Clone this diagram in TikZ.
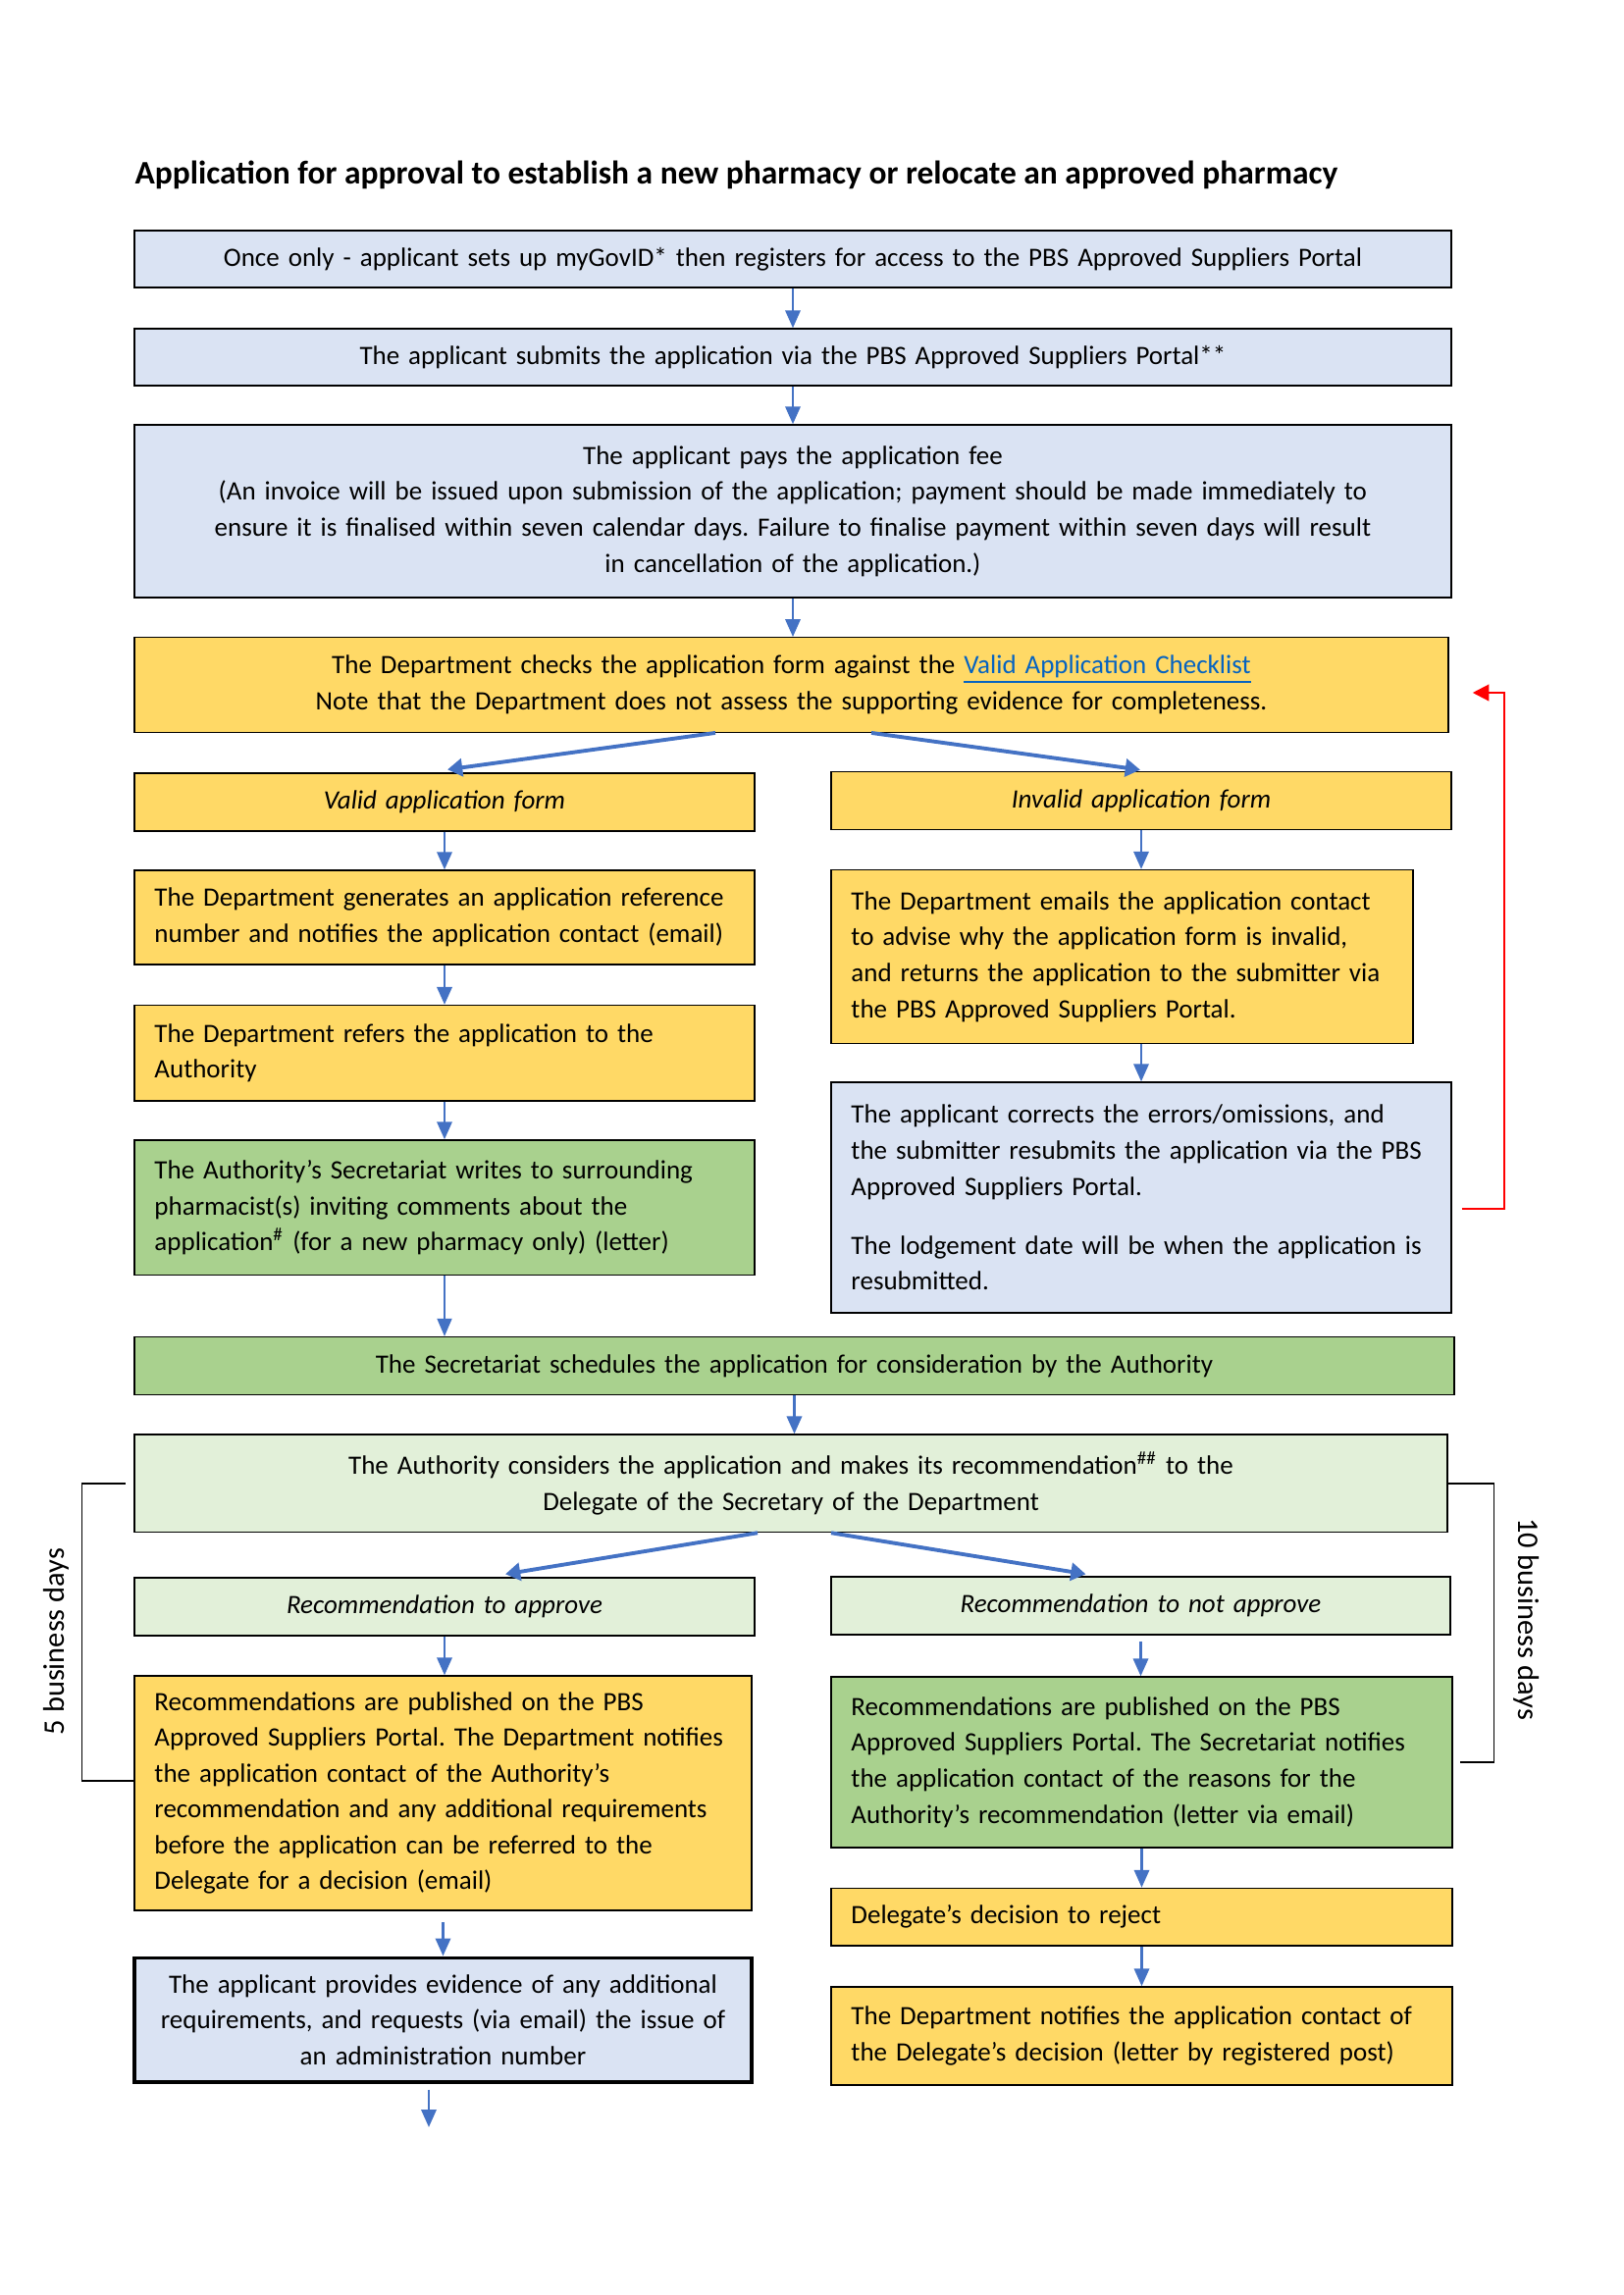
\documentclass[tikz,border=0pt]{standalone}
\usepackage{fontspec}
\setmainfont{Carlito}
\usepackage{xcolor}
\usepackage{tikz}
\usetikzlibrary{arrows.meta,calc}

\definecolor{paleblue}{HTML}{DAE3F3}
\definecolor{gold}{HTML}{FFD966}
\definecolor{leaf}{HTML}{A9D18E}
\definecolor{mint}{HTML}{E2F0D9}
\definecolor{flowblue}{HTML}{4472C4}
\definecolor{linkblue}{HTML}{0563C1}

\begin{document}
\begin{tikzpicture}[x=0.126965mm, y=-0.126965mm,
    every node/.style={font=\fontsize{9.75}{13.2}\selectfont\frenchspacing},
    stage/.style={draw=black, line width=0.5pt, inner xsep=2.6mm, inner ysep=0pt},
    flow/.style={draw=flowblue, line width=1pt, -{Triangle[length=6.5pt, width=5.5pt]}},
    fork/.style={draw=flowblue, line width=1.4pt, -{Triangle[length=5.5pt, width=6.5pt]}},
    loopback/.style={draw=red, line width=0.8pt, -{Triangle[length=6pt, width=6pt]}},
    bracket/.style={draw=black, line width=0.5pt}]
    \useasboundingbox (0,0) rectangle (1654,2339);

    \node[anchor=base west, inner sep=0pt, font=\fontsize{12.1}{14.5}\selectfont\bfseries] (title) at (137,188) {Application for approval to establish a new pharmacy or relocate an approved pharmacy};

    \node[stage, fill=paleblue, text width=165.19mm, minimum height=7.36mm, align=center] (once) at (808,264) {Once only - applicant sets up myGovID* then registers for access to the PBS Approved Suppliers Portal};
    \node[stage, fill=paleblue, text width=165.19mm, minimum height=7.36mm, align=center] (submit) at (808,364) {The applicant submits the application via the PBS Approved Suppliers Portal**};
    \node[stage, fill=paleblue, text width=165.19mm, minimum height=22.35mm, align=center] (fee) at (808,521) {The applicant pays the application fee\\(An invoice will be issued upon submission of the application; payment should be made immediately to\\ensure it is finalised within seven calendar days. Failure to finalise payment within seven days will result\\in cancellation of the application.)};
    \node[stage, fill=gold, text width=164.8mm, minimum height=12.25mm, align=center] (check) at (806.5,698) {The Department checks the application form against the \textcolor{linkblue}{\underline{Valid Application Checklist}}\\Note that the Department does not assess the supporting evidence for completeness.};

    \node[stage, fill=gold, text width=75.04mm, minimum height=7.49mm, align=center] (valid) at (453,817.5) {\textit{Valid application form}};
    \node[stage, fill=gold, text width=75.04mm, minimum height=7.55mm, align=center] (invalid) at (1163,816) {\textit{Invalid application form}};
    \node[stage, fill=gold, text width=75.04mm, minimum height=12.19mm, align=left] (refnum) at (453,935) {The Department generates an application reference\\number and notifies the application contact (email)};
    \node[stage, fill=gold, text width=70.09mm, minimum height=22.47mm, align=left] (emails) at (1143.5,975) {The Department emails the application contact\\to advise why the application form is invalid,\\and returns the application to the submitter via\\the PBS Approved Suppliers Portal.};
    \node[stage, fill=gold, text width=75.04mm, minimum height=12.37mm, align=left] (refers) at (453,1073.3) {The Department refers the application to the\\Authority};
    \node[stage, fill=paleblue, text width=75.04mm, minimum height=29.84mm, align=left] (corrects) at (1163,1220.5) {The applicant corrects the errors/omissions, and\\the submitter resubmits the application via the PBS\\Approved Suppliers Portal.\\[8.5pt]The lodgement date will be when the application is\\resubmitted.};
    \node[stage, fill=leaf, text width=75.04mm, minimum height=17.46mm, align=left] (writes) at (453,1230.7) {The Authority’s Secretariat writes to surrounding\\pharmacist(s) inviting comments about the\\application\textsuperscript{\#} (for a new pharmacy only) (letter)};

    \node[stage, fill=leaf, text width=165.57mm, minimum height=7.49mm, align=center] (schedules) at (809.5,1392) {The Secretariat schedules the application for consideration by the Authority};
    \node[stage, fill=mint, text width=164.68mm, minimum height=12.63mm, align=center] (considers) at (806,1511.8) {The Authority considers the application and makes its recommendation\textsuperscript{\#\#} to the\\Delegate of the Secretary of the Department};

    \node[stage, fill=mint, text width=75.04mm, minimum height=7.49mm, align=center] (approve) at (453,1637.5) {\textit{Recommendation to approve}};
    \node[stage, fill=mint, text width=74.91mm, minimum height=7.49mm, align=center] (notapprove) at (1162.5,1636.5) {\textit{Recommendation to not approve}};
    \node[stage, fill=gold, text width=74.66mm, minimum height=30.34mm, align=left] (pubapprove) at (451.5,1827.5) {Recommendations are published on the PBS\\Approved Suppliers Portal. The Department notifies\\the application contact of the Authority’s\\recommendation and any additional requirements\\before the application can be referred to the\\Delegate for a decision (email)};
    \node[stage, fill=leaf, text width=75.17mm, minimum height=22.09mm, align=left] (pubreject) at (1163.5,1796) {Recommendations are published on the PBS\\Approved Suppliers Portal. The Secretariat notifies\\the application contact of the reasons for the\\Authority’s recommendation (letter via email)};
    \node[stage, fill=gold, text width=75.17mm, minimum height=7.43mm, align=left] (reject) at (1163.5,1953.7) {Delegate’s decision to reject};
    \node[stage, fill=gold, text width=75.17mm, minimum height=12.7mm, align=left] (notice) at (1163.5,2075) {The Department notifies the application contact of\\the Delegate’s decision (letter by registered post)};
    \node[stage, fill=paleblue, line width=1.1pt, text width=74.66mm, minimum height=16.12mm, align=center] (provides) at (451.5,2058.5) {The applicant provides evidence of any additional\\requirements, and requests (via email) the issue of\\an administration number};
    \coordinate (next) at (437,2168);

    \node[rotate=90, font=\fontsize{11}{13.2}\selectfont] (fivedays) at (57,1673) {5 business days};
    \node[rotate=-90, font=\fontsize{11}{13.2}\selectfont] (tendays) at (1556,1650) {10 business days};

    \draw[flow] (once) -- (submit);
    \draw[flow] (submit) -- (fee);
    \draw[flow] (fee.south) -- (fee.south |- check.north);
    \draw[fork] ($(check.south)+(-77.5,0)$) -- ($(valid.north)+(3,-3)$);
    \draw[fork] ($(check.south)+(81.5,0)$) -- ($(invalid.north)+(-1,-1)$);
    \draw[flow] (valid) -- (refnum);
    \draw[flow] (refnum) -- (refers);
    \draw[flow] (refers) -- (writes);
    \draw[flow, line width=0.4pt] (writes.south) -- (writes.south |- schedules.north);
    \draw[flow] (invalid.south) -- (invalid.south |- emails.north);
    \draw[flow] (corrects.north |- emails.south) -- (corrects.north);
    \draw[loopback, shorten <=3.6pt, shorten >=8.7pt] ($(corrects.east)+(0,11.5)$) -- ++(53,0) |- ($(check.east)+(0,8)$);
    \draw[flow] (schedules.south) -- (schedules.south |- considers.north);
    \draw[fork] ($(considers.south)+(-34,0)$) -- ($(approve.north)+(62,-3)$);
    \draw[fork] ($(considers.south)+(41,0)$) -- ($(notapprove.north)+(-56,-2)$);
    \draw[flow] (approve.south) -- (approve.south |- pubapprove.north);
    \draw[flow, shorten <=2.2pt] (notapprove.south) -- (notapprove.south |- pubreject.north);
    \draw[flow] (pubreject) -- (reject);
    \draw[flow] (reject) -- (notice);
    \draw[flow, shorten <=4pt] (pubapprove) -- (provides);
    \draw[flow, shorten <=2.2pt] (provides.south -| next) -- (next);

    \draw[bracket] ([xshift=-1.1mm]considers.west) -- ++(-44,0) |- (pubapprove.west |- 0,1815);
    \draw[bracket] (considers.east) -- ++(47,0) |- ([xshift=0.9mm]pubreject.east);
\end{tikzpicture}
\end{document}
